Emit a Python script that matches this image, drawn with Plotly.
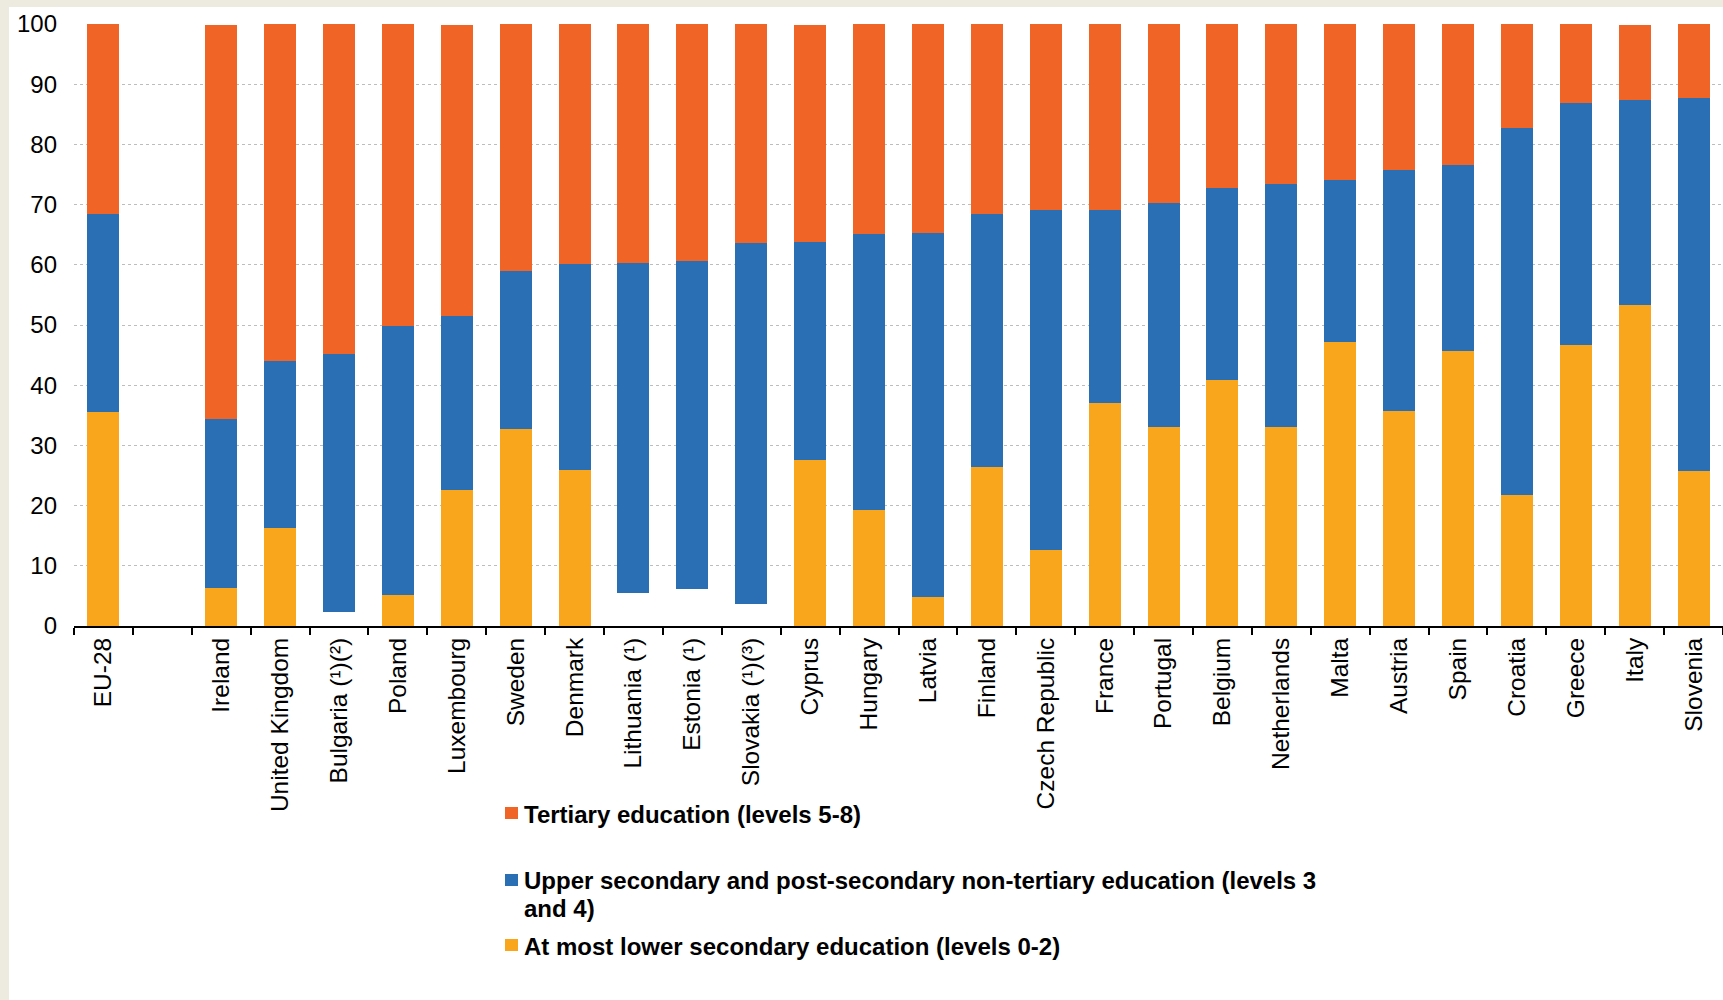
import plotly.graph_objects as go

# Population by educational attainment level, % share per country
countries = [
    "EU-28", " ", "Ireland", "United Kingdom", "Bulgaria (¹)(²)", "Poland",
    "Luxembourg", "Sweden", "Denmark", "Lithuania (¹)", "Estonia (¹)",
    "Slovakia (¹)(³)", "Cyprus", "Hungary", "Latvia", "Finland",
    "Czech Republic", "France", "Portugal", "Belgium", "Netherlands", "Malta",
    "Austria", "Spain", "Croatia", "Greece", "Italy", "Slovenia",
]

lower = [35.5, None, 6.3, 16.3, 2.3, 5.2, 22.6, 32.8, 25.9, 5.4, 6.2, 3.6,
         27.5, 19.3, 4.8, 26.4, 12.7, 37.0, 33.0, 40.8, 33.0, 47.1, 35.7,
         45.6, 21.8, 46.6, 53.3, 25.7]
upper = [32.9, None, 28.1, 27.8, 42.9, 44.7, 28.9, 26.2, 34.2, 54.9, 54.5,
         60.0, 36.3, 45.9, 60.5, 42.1, 56.4, 32.1, 37.2, 31.9, 40.5, 27.0,
         40.1, 31.0, 60.9, 40.3, 34.0, 62.0]
tertiary = [31.6, None, 65.4, 55.9, 54.8, 50.1, 48.3, 41.0, 39.9, 39.7, 39.3,
            36.4, 36.1, 34.8, 34.7, 31.5, 30.9, 30.9, 29.8, 27.3, 26.5, 25.9,
            24.2, 23.4, 17.3, 13.1, 12.5, 12.3]

# Lower-secondary shares with low reliability: stacked but not shown
lower_hidden = ["Bulgaria (¹)(²)", "Lithuania (¹)", "Estonia (¹)", "Slovakia (¹)(³)"]

series_names = [
    "Tertiary education (levels 5-8)",
    "Upper secondary and post-secondary non-tertiary education (levels 3<br>and 4)",
    "At most lower secondary education (levels 0-2)",
]

C_LOW = "#F9A61D"
C_UP = "#2A6EB3"
C_TER = "#F06526"
BEIGE = "#EDEBE0"
FONT = "Liberation Sans, Arial, sans-serif"

W, H = 1723, 1000
ML, MR, MT, MB = 74, 0, 24, 374
PW, PH = W - ML - MR, H - MT - MB


def px_x(px):
    return (px - ML) / PW


def px_y(py):
    return (H - MB - py) / PH


low_colors = ["rgba(0,0,0,0)" if c in lower_hidden else C_LOW for c in countries]

fig = go.Figure()
fig.add_bar(x=countries, y=lower, marker=dict(color=low_colors, line=dict(width=0)),
            name=series_names[2], showlegend=False)
fig.add_bar(x=countries, y=upper, marker=dict(color=C_UP, line=dict(width=0)),
            name=series_names[1], showlegend=False)
fig.add_bar(x=countries, y=tertiary, marker=dict(color=C_TER, line=dict(width=0)),
            name=series_names[0], showlegend=False)

fig.update_layout(
    width=W, height=H,
    margin=dict(l=ML, r=MR, t=MT, b=MB, autoexpand=False),
    barmode="stack", bargap=0.457,
    paper_bgcolor=BEIGE, plot_bgcolor="white",
    font=dict(family=FONT, color="black"),
    showlegend=False,
)

fig.update_xaxes(
    type="category", range=[-0.5, 27.5], tickangle=-90,
    tickfont=dict(size=24.5, family=FONT, color="black"),
    showline=True, linecolor="black", linewidth=2,
    ticks="outside", tickson="boundaries", ticklen=7, tickwidth=2, tickcolor="black",
    showgrid=False, automargin=False,
)
fig.update_yaxes(
    range=[0, 100], dtick=10, tick0=0,
    tickfont=dict(size=24, family=FONT, color="black"),
    showgrid=True, gridcolor="#BDBDBD", griddash="dot", gridwidth=1,
    zeroline=False, showline=False, ticks="", ticklabelstandoff=16,
    automargin=False,
)

# white card behind the chart
fig.add_shape(type="rect", xref="paper", yref="paper",
              x0=px_x(9), x1=px_x(W + 5), y0=px_y(H + 5), y1=px_y(7),
              fillcolor="white", line=dict(width=0), layer="below")

# legend drawn underneath the axis labels
legend_rows = [
    (series_names[0], C_TER, 807, [814]),
    (series_names[1], C_UP, 874, [880, 908]),
    (series_names[2], C_LOW, 939, [946]),
]
for name, color, sq_top, line_ys in legend_rows:
    fig.add_shape(type="rect", xref="paper", yref="paper",
                  x0=px_x(505), x1=px_x(518), y0=px_y(sq_top + 12), y1=px_y(sq_top),
                  fillcolor=color, line=dict(width=0))
    for txt, yy in zip(name.split("<br>"), line_ys):
        fig.add_annotation(xref="paper", yref="paper", x=px_x(522), y=px_y(yy),
                           xanchor="left", yanchor="middle", showarrow=False,
                           text="<b>" + txt + "</b>",
                           font=dict(size=24, family=FONT, color="black"))

fig.write_html("out.html")
